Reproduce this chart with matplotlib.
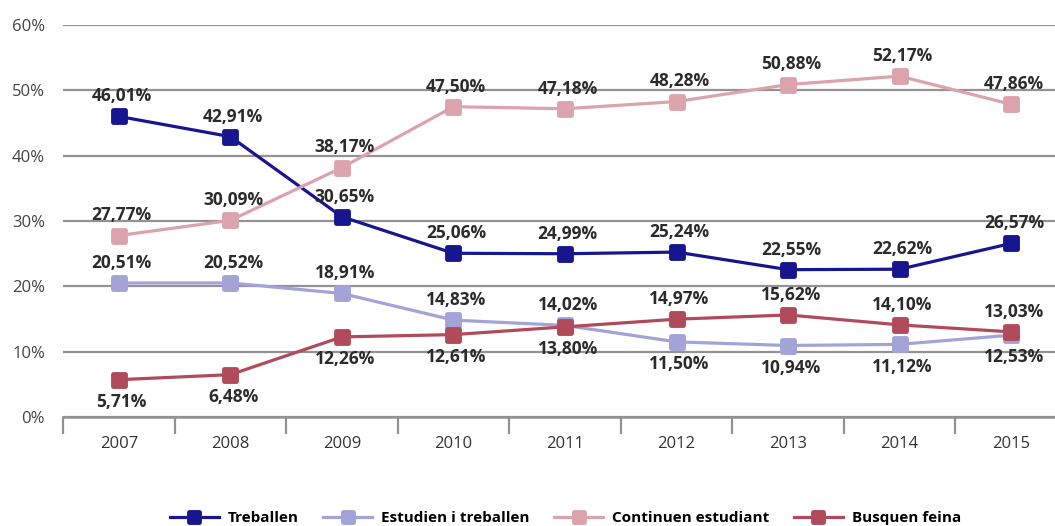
import matplotlib
matplotlib.use("Agg")
import matplotlib.pyplot as plt
from matplotlib.markers import MarkerStyle
import numpy as np

plt.rcParams["font.family"] = ["Open Sans", "DejaVu Sans"]

years = ["2007", "2008", "2009", "2010", "2011", "2012", "2013", "2014", "2015"]
treballen = [46.01, 42.91, 30.65, 25.06, 24.99, 25.24, 22.55, 22.62, 26.57]
estudien_treballen = [20.51, 20.52, 18.91, 14.83, 14.02, 11.50, 10.94, 11.12, 12.53]
continuen_estudiant = [27.77, 30.09, 38.17, 47.50, 47.18, 48.28, 50.88, 52.17, 47.86]
busquen_feina = [5.71, 6.48, 12.26, 12.61, 13.80, 14.97, 15.62, 14.10, 13.03]

names = ["Treballen", "Estudien i treballen", "Continuen estudiant", "Busquen feina"]
colors = ["#17168f", "#a3a3d8", "#dba4ad", "#b14b5b"]
series = [treballen, estudien_treballen, continuen_estudiant, busquen_feina]

fig = plt.figure(figsize=(10.55, 5.26), dpi=100)
# plot area runs past the right edge, as in the cropped original
ax = fig.add_axes([63 / 1055, 109 / 526, 1004 / 1055, 392 / 526])

x = np.arange(len(years))
rounded_sq = MarkerStyle("s", joinstyle="round")
for name, vals, c in zip(names, series, colors):
    ax.plot(x, vals, color=c, lw=2.3, marker=rounded_sq, ms=8.5, mew=3.5, mec=c, mfc=c,
            solid_joinstyle="round", label=name, zorder=3)

# value labels: the higher of the two crossing low series gets its label above
for i in range(len(years)):
    for vals in series:
        v = vals[i]
        above = True
        if vals is busquen_feina and busquen_feina[i] < estudien_treballen[i]:
            above = False
        if vals is estudien_treballen and estudien_treballen[i] < busquen_feina[i]:
            above = False
        txt = f"{v:.2f}%".replace(".", ",")
        ax.annotate(txt, (i, v), xytext=(2, 14.5 if above else -16), textcoords="offset points",
                    ha="center", va="center", fontsize=12.5, fontweight="bold", color="#2b2b2b")

ax.set_xlim(-0.5, len(years) - 0.5)
ax.set_ylim(0, 60)
ax.set_yticks(np.arange(0, 61, 10))
ax.set_yticklabels([f"{t}%" for t in range(0, 61, 10)], fontsize=12, color="#444444")
ax.grid(True, axis="y", color="#929292", lw=1.6)
ax.set_axisbelow(True)
for s in ["left", "right", "top"]:
    ax.spines[s].set_visible(False)
ax.spines["bottom"].set_color("#929292")
ax.spines["bottom"].set_linewidth(1.8)
ax.tick_params(axis="y", length=0, pad=13)

ax.set_xticks(x)
ax.set_xticklabels(years, fontsize=12, color="#333333")
ax.set_xticks(np.arange(-0.5, len(years), 1), minor=True)
ax.tick_params(axis="x", which="major", length=0, pad=14)
ax.tick_params(axis="x", which="minor", length=12, width=1.6, color="#929292", direction="out")

leg = fig.legend(loc="center", bbox_to_anchor=(0.536, 0.015), ncol=4, frameon=False,
                 prop={"weight": "bold", "size": 11}, handlelength=3.2, columnspacing=1.6,
                 handletextpad=0.6, markerscale=0.85)

fig.savefig("out.png", dpi=100)
